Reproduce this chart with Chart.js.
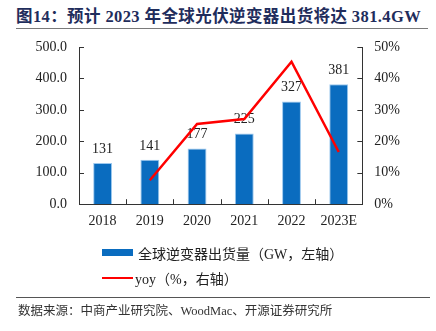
<!DOCTYPE html>
<html lang="zh">
<head>
<meta charset="UTF-8">
<title>全球光伏逆变器出货</title>
<script src="https://cdn.jsdelivr.net/npm/chart.js"></script>
<style>
  html, body { margin: 0; padding: 0; background: #fff; }
  #wrap { position: relative; width: 436px; height: 331px; overflow: hidden; }
  #title {
    position: absolute; left: 16px; top: 3px;
    font: bold 16.5px "Liberation Serif", "Noto Sans CJK SC", serif;
    color: #1f2d5c; white-space: nowrap; letter-spacing: 0.4px;
  }
  #title-line { position: absolute; left: 16px; top: 28px; width: 412px; height: 1px; background: #7a7a7a; }
  #legend { position: absolute; left: 102px; top: 240px; font: 14px "Liberation Serif", "Noto Sans CJK SC", serif; color: #222; }
  .item { display: flex; align-items: center; height: 25px; }
  .swatch-bar { width: 31px; height: 7px; background: #0a6cbf; margin-right: 5px; }
  .swatch-line { width: 31px; height: 2px; background: #ff0000; margin-right: 2px; }
  #src-line { position: absolute; left: 16px; top: 297px; width: 414px; height: 1px; background: #555; }
  #source { position: absolute; left: 18px; top: 300px; font: 12.5px "Liberation Serif", "Noto Sans CJK SC", serif; color: #333; white-space: nowrap; }
  canvas { position: absolute; left: 0; top: 0; }
</style>
</head>
<body>
<div id="wrap">
  <div id="title">图14：预计 2023 年全球光伏逆变器出货将达 381.4GW</div>
  <div id="title-line"></div>
  <canvas id="chart" width="436" height="331"></canvas>
  <div id="legend">
    <div class="item"><span class="swatch-bar"></span>全球逆变器出货量（GW，左轴）</div>
    <div class="item"><span class="swatch-line"></span>yoy（%，右轴）</div>
  </div>
  <div id="src-line"></div>
  <div id="source">数据来源：中商产业研究院、WoodMac、开源证券研究所</div>
</div>
<script>
  const years = ['2018', '2019', '2020', '2021', '2022', '2023E'];
  const shipments = [131, 141, 177, 225, 327, 381.4];
  const yoy = [null, 7.6, 25.5, 27.1, 45.3, 16.6];
  const leftTicks = [0, 100, 200, 300, 400, 500];
  const rightTicks = [0, 10, 20, 30, 40, 50];

  const serif = '"Liberation Serif", "Times New Roman", serif';

  // inward tick stubs on all three axes + bar value labels
  const extras = {
    id: 'extras',
    afterDatasetsDraw(chart) {
      const ctx = chart.ctx;
      const a = chart.chartArea;
      const x = chart.scales.x, y = chart.scales.y, y1 = chart.scales.y1;
      ctx.save();
      ctx.strokeStyle = '#333';
      ctx.lineWidth = 1;
      ctx.beginPath();
      leftTicks.forEach(v => {
        const py = Math.round(y.getPixelForValue(v)) + 0.5;
        ctx.moveTo(a.left, py); ctx.lineTo(a.left + 5, py);
      });
      rightTicks.forEach(v => {
        const py = Math.round(y1.getPixelForValue(v)) + 0.5;
        ctx.moveTo(a.right, py); ctx.lineTo(a.right - 5, py);
      });
      for (let i = 1; i < years.length; i++) {
        const px = Math.round((x.getPixelForValue(i - 1) + x.getPixelForValue(i)) / 2) + 0.5;
        ctx.moveTo(px, a.bottom); ctx.lineTo(px, a.bottom - 5);
      }
      ctx.stroke();
      ctx.restore();
    },
    beforeDatasetDraw(chart, args) {
      // value labels drawn just before the line so the line sits on top
      if (args.index !== 0) return;
      const ctx = chart.ctx;
      const meta = chart.getDatasetMeta(1);
      ctx.save();
      ctx.font = '14px ' + serif;
      ctx.fillStyle = '#222';
      ctx.textAlign = 'center';
      ctx.textBaseline = 'bottom';
      meta.data.forEach((bar, i) => {
        ctx.fillText(Math.round(shipments[i]), bar.x, bar.y - 7);
      });
      ctx.restore();
    }
  };

  new Chart(document.getElementById('chart'), {
    data: {
      labels: years,
      datasets: [
        {
          type: 'line',
          label: 'yoy（%，右轴）',
          data: yoy,
          yAxisID: 'y1',
          borderColor: '#ff0000',
          borderWidth: 2.5,
          pointRadius: 0,
          tension: 0,
          order: 0
        },
        {
          type: 'bar',
          label: '全球逆变器出货量（GW，左轴）',
          data: shipments,
          yAxisID: 'y',
          backgroundColor: '#0a6cbf',
          borderColor: '#9cc8ee',
          borderWidth: 1,
          categoryPercentage: 1,
          barPercentage: 0.4,
          order: 1
        }
      ]
    },
    options: {
      responsive: false,
      animation: false,
      layout: { padding: { left: 23.5, right: 24, top: 47, bottom: 92 } },
      plugins: { legend: { display: false }, tooltip: { enabled: false } },
      scales: {
        x: {
          grid: { display: false, drawTicks: false },
          border: { color: '#333', width: 1 },
          ticks: { color: '#222', font: { family: serif, size: 14 }, padding: 9, maxRotation: 0 }
        },
        y: {
          position: 'left',
          min: 0, max: 500,
          afterBuildTicks: s => { s.ticks = leftTicks.map(v => ({ value: v })); },
          grid: { display: false, drawTicks: false },
          border: { color: '#333', width: 1 },
          ticks: { color: '#222', font: { family: serif, size: 14 }, padding: 12, callback: v => v.toFixed(1) }
        },
        y1: {
          position: 'right',
          min: 0, max: 50,
          afterBuildTicks: s => { s.ticks = rightTicks.map(v => ({ value: v })); },
          grid: { display: false, drawTicks: false },
          border: { color: '#333', width: 1 },
          ticks: { color: '#222', font: { family: serif, size: 14 }, padding: 12, callback: v => v + '%' }
        }
      }
    },
    plugins: [extras]
  });
</script>
</body>
</html>
